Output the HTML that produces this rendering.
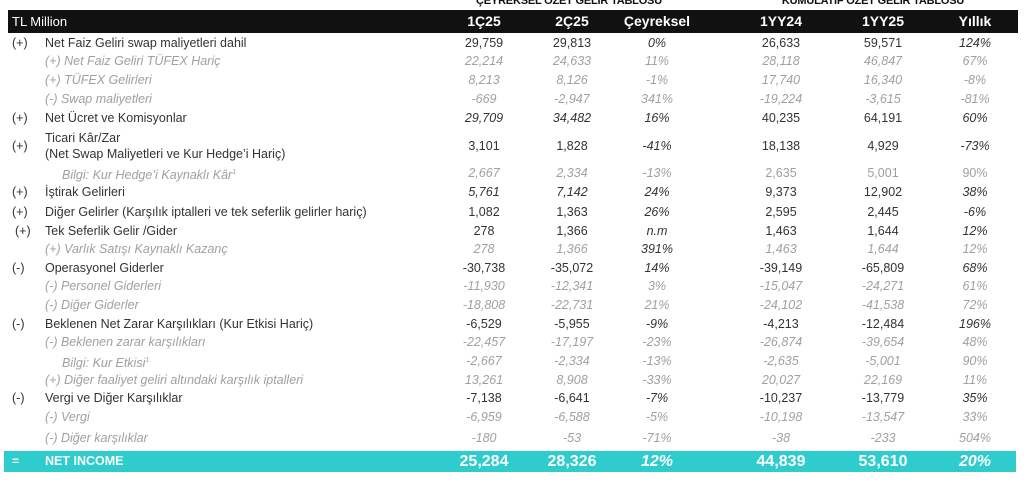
<!DOCTYPE html>
<html><head><meta charset="utf-8"><style>
body{margin:0;width:1024px;height:491px;background:#fff;position:relative;overflow:hidden;font-family:"Liberation Sans",sans-serif;}
.t{position:absolute;top:-5px;font-size:11px;font-weight:bold;color:#111;transform:translateX(-50%);white-space:nowrap;letter-spacing:-0.2px}
.hd{position:absolute;left:8px;top:10px;width:1010px;height:23px;background:#111;color:#fff}
.r{position:absolute;left:0;width:1024px;height:18px;line-height:18px;font-size:12.5px;color:#333;white-space:nowrap}
.r span{position:absolute;}
.s{position:absolute;left:12px}
.l{left:45px}
.b{left:62px}
.v{width:90px;text-align:center;margin-left:-45px}
.g{color:#a0a0a0;font-style:italic}
.i{font-style:italic}
.c1{left:484px}.c2{left:572px}.c3{left:657px}.c4{left:781px}.c5{left:883px}.c6{left:975px}
.hd span{position:absolute;top:0;line-height:23px;font-size:14px;font-weight:bold}
.ni{position:absolute;left:4px;top:451px;width:1012px;height:21px;background:#2ecccc;color:#fff}
.ni span{position:absolute;line-height:21px;font-weight:bold}
</style></head><body>
<div class="t" style="left:569px">ÇEYREKSEL ÖZET GELİR TABLOSU</div>
<div class="t" style="left:873px">KÜMULATİF ÖZET GELİR TABLOSU</div>
<div class="hd">
<span style="left:4px;font-weight:normal;font-size:13px">TL Million</span>
<span class="v" style="left:476px">1Ç25</span><span class="v" style="left:564px">2Ç25</span><span class="v" style="left:649px">Çeyreksel</span><span class="v" style="left:773px">1YY24</span><span class="v" style="left:875px">1YY25</span><span class="v" style="left:967px">Yıllık</span>
</div>

<div class="r" style="top:34px"><span class="s">(+)</span><span class="l">Net Faiz Geliri swap maliyetleri dahil</span><span class="v c1">29,759</span><span class="v c2">29,813</span><span class="v c3 i">0%</span><span class="v c4">26,633</span><span class="v c5">59,571</span><span class="v c6 i">124%</span></div>
<div class="r g" style="top:52px"><span class="l">(+) Net Faiz Geliri TÜFEX Hariç</span><span class="v c1">22,214</span><span class="v c2">24,633</span><span class="v c3">11%</span><span class="v c4">28,118</span><span class="v c5">46,847</span><span class="v c6">67%</span></div>
<div class="r g" style="top:71px"><span class="l">(+) TÜFEX Gelirleri</span><span class="v c1">8,213</span><span class="v c2">8,126</span><span class="v c3">-1%</span><span class="v c4">17,740</span><span class="v c5">16,340</span><span class="v c6">-8%</span></div>
<div class="r g" style="top:90px"><span class="l">(-) Swap maliyetleri</span><span class="v c1">-669</span><span class="v c2">-2,947</span><span class="v c3">341%</span><span class="v c4">-19,224</span><span class="v c5">-3,615</span><span class="v c6">-81%</span></div>
<div class="r" style="top:109px"><span class="s">(+)</span><span class="l">Net Ücret ve Komisyonlar</span><span class="v c1 i">29,709</span><span class="v c2 i">34,482</span><span class="v c3 i">16%</span><span class="v c4">40,235</span><span class="v c5">64,191</span><span class="v c6 i">60%</span></div>
<div class="r" style="top:129px"><span class="l">Ticari Kâr/Zar</span></div>
<div class="r" style="top:137px"><span class="s">(+)</span><span class="v c1">3,101</span><span class="v c2">1,828</span><span class="v c3 i">-41%</span><span class="v c4">18,138</span><span class="v c5">4,929</span><span class="v c6 i">-73%</span></div>
<div class="r" style="top:145px"><span class="l">(Net Swap Maliyetleri ve Kur Hedge’i Hariç)</span></div>
<div class="r g" style="top:164px"><span class="b">Bilgi: Kur Hedge’i Kaynaklı Kâr<sup style="font-size:7px">1</sup></span><span class="v c1">2,667</span><span class="v c2">2,334</span><span class="v c3">-13%</span><span class="v c4" style="font-style:normal">2,635</span><span class="v c5" style="font-style:normal">5,001</span><span class="v c6" style="font-style:normal">90%</span></div>
<div class="r" style="top:183px"><span class="s">(+)</span><span class="l">İştirak Gelirleri</span><span class="v c1 i">5,761</span><span class="v c2 i">7,142</span><span class="v c3 i">24%</span><span class="v c4">9,373</span><span class="v c5">12,902</span><span class="v c6 i">38%</span></div>
<div class="r" style="top:203px"><span class="s">(+)</span><span class="l">Diğer Gelirler (Karşılık iptalleri ve tek seferlik gelirler hariç)</span><span class="v c1">1,082</span><span class="v c2">1,363</span><span class="v c3 i">26%</span><span class="v c4">2,595</span><span class="v c5">2,445</span><span class="v c6 i">-6%</span></div>
<div class="r" style="top:222px"><span class="s" style="left:15px">(+)</span><span class="l">Tek Seferlik Gelir /Gider</span><span class="v c1">278</span><span class="v c2">1,366</span><span class="v c3 i">n.m</span><span class="v c4">1,463</span><span class="v c5">1,644</span><span class="v c6 i">12%</span></div>
<div class="r g" style="top:240px"><span class="l">(+) Varlık Satışı Kaynaklı Kazanç</span><span class="v c1">278</span><span class="v c2">1,366</span><span class="v c3" style="color:#333">391%</span><span class="v c4">1,463</span><span class="v c5">1,644</span><span class="v c6">12%</span></div>
<div class="r" style="top:259px"><span class="s">(-)</span><span class="l">Operasyonel Giderler</span><span class="v c1">-30,738</span><span class="v c2">-35,072</span><span class="v c3 i">14%</span><span class="v c4">-39,149</span><span class="v c5">-65,809</span><span class="v c6 i">68%</span></div>
<div class="r g" style="top:277px"><span class="l">(-) Personel Giderleri</span><span class="v c1">-11,930</span><span class="v c2">-12,341</span><span class="v c3">3%</span><span class="v c4">-15,047</span><span class="v c5">-24,271</span><span class="v c6">61%</span></div>
<div class="r g" style="top:296px"><span class="l">(-) Diğer Giderler</span><span class="v c1">-18,808</span><span class="v c2">-22,731</span><span class="v c3">21%</span><span class="v c4">-24,102</span><span class="v c5">-41,538</span><span class="v c6">72%</span></div>
<div class="r" style="top:315px"><span class="s">(-)</span><span class="l">Beklenen Net Zarar Karşılıkları (Kur Etkisi Hariç)</span><span class="v c1">-6,529</span><span class="v c2">-5,955</span><span class="v c3 i">-9%</span><span class="v c4">-4,213</span><span class="v c5">-12,484</span><span class="v c6 i">196%</span></div>
<div class="r g" style="top:333px"><span class="l">(-) Beklenen zarar karşılıkları</span><span class="v c1">-22,457</span><span class="v c2">-17,197</span><span class="v c3">-23%</span><span class="v c4">-26,874</span><span class="v c5">-39,654</span><span class="v c6">48%</span></div>
<div class="r g" style="top:352px"><span class="b">Bilgi: Kur Etkisi<sup style="font-size:7px">1</sup></span><span class="v c1">-2,667</span><span class="v c2">-2,334</span><span class="v c3">-13%</span><span class="v c4">-2,635</span><span class="v c5">-5,001</span><span class="v c6">90%</span></div>
<div class="r g" style="top:371px"><span class="l">(+) Diğer faaliyet geliri altındaki karşılık iptalleri</span><span class="v c1">13,261</span><span class="v c2">8,908</span><span class="v c3">-33%</span><span class="v c4">20,027</span><span class="v c5">22,169</span><span class="v c6">11%</span></div>
<div class="r" style="top:389px"><span class="s">(-)</span><span class="l">Vergi ve Diğer Karşılıklar</span><span class="v c1">-7,138</span><span class="v c2">-6,641</span><span class="v c3 i">-7%</span><span class="v c4">-10,237</span><span class="v c5">-13,779</span><span class="v c6 i">35%</span></div>
<div class="r g" style="top:408px"><span class="l">(-) Vergi</span><span class="v c1">-6,959</span><span class="v c2">-6,588</span><span class="v c3">-5%</span><span class="v c4">-10,198</span><span class="v c5">-13,547</span><span class="v c6">33%</span></div>
<div class="r g" style="top:429px"><span class="l">(-) Diğer karşılıklar</span><span class="v c1">-180</span><span class="v c2">-53</span><span class="v c3">-71%</span><span class="v c4">-38</span><span class="v c5">-233</span><span class="v c6">504%</span></div>

<div class="ni">
<span style="left:8px;font-size:12px">=</span><span style="left:41px;font-size:12.5px">NET INCOME</span>
<span class="v" style="left:480px;font-size:16px">25,284</span><span class="v" style="left:568px;font-size:16px">28,326</span><span class="v" style="left:653px;font-size:16px;font-style:italic">12%</span><span class="v" style="left:777px;font-size:16px">44,839</span><span class="v" style="left:879px;font-size:16px">53,610</span><span class="v" style="left:971px;font-size:16px;font-style:italic">20%</span>
</div>
</body></html>
